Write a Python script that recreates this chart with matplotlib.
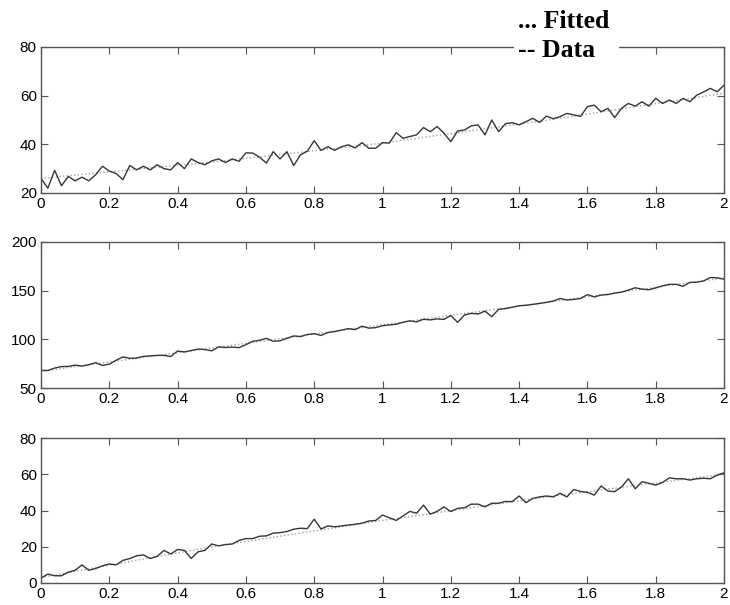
import numpy as np
import matplotlib
matplotlib.use("Agg")
import matplotlib.pyplot as plt
from matplotlib.patches import Rectangle
from matplotlib.ticker import FormatStrFormatter

x = np.round(np.arange(0, 2.0001, 0.02), 2)

data1 = [26, 22, 29.3, 23, 26.8, 25, 26.5, 25, 27.5, 31, 29, 28, 25.5, 31.3, 29.5, 31, 29.5, 31.6, 30, 29.5,
         32.5, 30, 34, 32.5, 31.6, 33.2, 34, 32.5, 34, 33, 36.5, 36.4, 34.7, 32.3, 37, 34, 37, 31.3, 35.7, 37.2,
         41.5, 37.5, 39, 37.5, 39, 39.8, 38.5, 40.7, 38.4, 38.4,
         40.7, 40.5, 44.8, 42.5, 43.2, 43.9, 46.9, 45.2, 47.3, 44.6, 41.1, 45.5, 45.9, 47.6, 48, 43.9, 50, 45.2, 48.5, 48.9,
         48, 49.3, 50.7, 49, 51.6, 50.5, 51.4, 52.7, 52.1, 51.5, 55.5, 56.1, 53.4, 54.8, 51, 54.8, 56.8, 55.7, 57.5, 55.7,
         58.9, 56.8, 58.2, 56.8, 58.9, 57.5, 60.2, 61.5, 63, 61.6, 64.3]

data2 = [68.1, 68, 70.5, 72, 72.2, 73.5, 72.5, 74, 76, 73.2, 74.5, 78.5, 82, 80.5, 80.8, 82.5, 83, 83.5, 83.5, 82.4,
         88, 87, 88.5, 90, 89.5, 88.2, 92.3, 91.6, 92, 91.5, 94.5, 98, 99, 101, 98, 98.5, 101, 103.5, 102.8, 105,
         105.8, 104, 107, 108, 109.5, 111, 110, 113.5, 111.5, 112,
         114, 114.8, 115.5, 117.5, 119, 118, 120.6, 120, 121, 120.5, 124.5, 117.5, 125, 126.7, 126, 129, 123.3, 130.8, 131.5, 133,
         134.5, 135, 135.9, 136.9, 138, 139.3, 142, 140.4, 141, 142, 146, 143.5, 145.5, 146, 147.5, 148.5, 150.6, 153, 151.5, 151,
         152.8, 155, 156.5, 156.5, 154.5, 158.5, 158.7, 160, 163.5, 163.2, 161.8]

data3 = [2.7, 4.9, 4, 4, 6, 7, 10, 7, 8, 9.5, 10.5, 10, 12.5, 13.5, 15, 15.5, 13.5, 14.7, 18, 16,
         18.5, 18, 13.5, 17.2, 18, 21.5, 20.5, 21.2, 21.5, 23.5, 24.5, 24.5, 25.8, 26, 27.5, 27.8, 28.4, 29.7, 30.2, 30,
         35.2, 29.8, 31.5, 31, 31.5, 32, 32.4, 33, 34.2, 34.5,
         37.5, 36, 34.5, 37, 39.5, 38.5, 43, 38, 39.5, 42, 39.4, 41.2, 41.5, 43.5, 43.5, 42, 44, 44, 45, 44.9,
         48, 44.3, 46.7, 47.5, 48, 47.5, 49.5, 47.5, 51.6, 50.5, 50, 48.5, 53.5, 50.7, 50.4, 53, 57.5, 52, 55.9, 55,
         54, 55.5, 58, 57.5, 57.5, 56.8, 57.5, 57.8, 57.5, 59.5, 60.8]

fit_x = [0, 0.5, 1, 1.5, 2]
fit1 = [26, 32.7, 40.5, 50.3, 61]
fit2 = [67, 91, 115, 139, 163]
fit3 = [3, 20, 34.5, 48, 60]

ylims = [(20, 80), (50, 200), (0, 80)]
yticks = [[20, 40, 60, 80], [50, 100, 150, 200], [0, 20, 40, 60, 80]]
xticks = [0, 0.2, 0.4, 0.6, 0.8, 1, 1.2, 1.4, 1.6, 1.8, 2]

plt.rcParams['font.family'] = ['Liberation Sans', 'DejaVu Sans']
fig = plt.figure(figsize=(7.3, 6.05), dpi=100)

positions = [
    [41/730, 1-193/605, 683/730, 146/605],
    [41/730, 1-388/605, 683/730, 146/605],
    [41/730, 1-583/605, 683/730, 145/605],
]
datas = [data1, data2, data3]
fits = [fit1, fit2, fit3]

for pos, d, f, yl, yt in zip(positions, datas, fits, ylims, yticks):
    ax = fig.add_axes(pos)
    ax.plot(fit_x, f, linestyle=':', color='#a0a0a0', linewidth=1.0)
    ax.plot(x, d, color='#363636', linewidth=1.0)
    ax.set_xlim(0, 2)
    ax.set_ylim(*yl)
    ax.set_xticks(xticks)
    ax.set_yticks(yt)
    ax.xaxis.set_major_formatter(FormatStrFormatter('%g'))
    ax.tick_params(direction='in', top=True, right=True, length=5, width=0.8,
                   color='#555555', labelsize=11, pad=3)
    for s in ax.spines.values():
        s.set_color('#555555')
        s.set_linewidth(1.0)

fig.patches.append(Rectangle((514/730, 1-62/605), 105/730, 26/605,
                             transform=fig.transFigure, facecolor='white',
                             edgecolor='none', zorder=5))
fig.text(518/730, 1-28/605, '... Fitted', family=['Liberation Serif', 'DejaVu Serif'],
         weight='bold', fontsize=18.5, va='baseline', ha='left', zorder=6)
fig.text(518/730, 1-57/605, '-- Data', family=['Liberation Serif', 'DejaVu Serif'],
         weight='bold', fontsize=18.5, va='baseline', ha='left', zorder=6)

fig.savefig('out.png', dpi=100)
